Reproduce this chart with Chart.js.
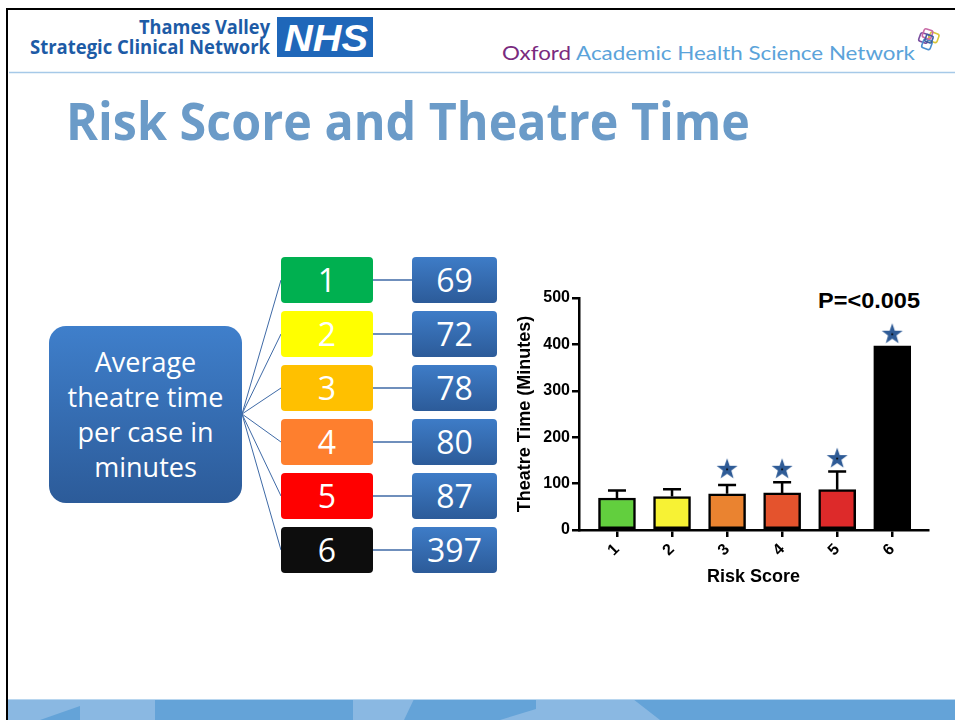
<!DOCTYPE html>
<html>
<head>
<meta charset="utf-8">
<title>Risk Score and Theatre Time</title>
<script src="https://cdn.jsdelivr.net/npm/chart.js@4.4.1/dist/chart.umd.min.js"></script>
<style>
  html, body { margin: 0; padding: 0; background: #fff; }
  #slide { position: relative; width: 955px; height: 720px; overflow: hidden; }
  #deco { position: absolute; left: 0; top: 0; }
  #chartBox { position: absolute; left: 505px; top: 280px; width: 445px; height: 320px; }
</style>
</head>
<body>
<div id="slide">
  <svg id="deco" width="955" height="720" xmlns="http://www.w3.org/2000/svg"></svg>
  <div id="chartBox"><canvas id="riskChart" width="445" height="320"></canvas></div>
</div>
<script>
// data
const riskScores = ['1', '2', '3', '4', '5', '6'];
const meanTimes = [69, 72, 78, 80, 87, 397];
const errorTops = [85, 88, 97, 103, 126, null];
const starScores = [3, 4, 5, 6];
const starHeights = [132, 132, 155, 423];
const yTicks = [0, 100, 200, 300, 400, 500];

const barColours = ['#62cf3e', '#f7f234', '#ea8330', '#e4532d', '#dd2a2a', '#000000'];
const boxColours = ['#00b050', '#ffff00', '#ffc000', '#fe7f2e', '#ff0000', '#0d0d0d'];

const NS = 'http://www.w3.org/2000/svg';
const svg = document.getElementById('deco');

const el = (tag, attrs, text) => {
    const node = document.createElementNS(NS, tag);
    for (const k in attrs) node.setAttribute(k, attrs[k]);
    if (text !== undefined) node.textContent = text;
    svg.appendChild(node);
    return node;
};

// gradients
const defs = el('defs', {});
defs.innerHTML =
    '<linearGradient id="blueGrad" x1="0" y1="0" x2="0" y2="1">' +
    '<stop offset="0" stop-color="#3f7fcb"/><stop offset="1" stop-color="#2c5b99"/></linearGradient>' +
    '<linearGradient id="blueGrad2" x1="0" y1="0" x2="0" y2="1">' +
    '<stop offset="0" stop-color="#3e7cc7"/><stop offset="1" stop-color="#2c5b99"/></linearGradient>';

// slide frame
el('path', { d: 'M7,720 V9 H955', fill: 'none', stroke: '#000', 'stroke-width': 2 });

// header left
el('text', { x: 270, y: 34, 'text-anchor': 'end', 'font-family': 'Open Sans', 'font-weight': 700,
    'font-size': 20, fill: '#1d5ba6', textLength: 131, lengthAdjust: 'spacingAndGlyphs' }, 'Thames Valley');
el('text', { x: 30, y: 54, 'font-family': 'Open Sans', 'font-weight': 700,
    'font-size': 20, fill: '#1d5ba6', textLength: 240, lengthAdjust: 'spacingAndGlyphs' }, 'Strategic Clinical Network');
el('rect', { x: 277, y: 17, width: 96, height: 40, fill: '#1f67b9' });
el('text', { x: 284, y: 51, 'font-family': 'Liberation Sans', 'font-weight': 700, 'font-style': 'italic',
    'font-size': 36, fill: '#fff', textLength: 84, lengthAdjust: 'spacingAndGlyphs' }, 'NHS');

// header right
const oahsn = el('text', { x: 502, y: 60, 'font-family': 'Lato', 'font-size': 20,
    textLength: 413, lengthAdjust: 'spacingAndGlyphs' });
oahsn.innerHTML = '<tspan fill="#7a2a7e">Oxford</tspan><tspan fill="#5ba3da"> Academic Health Science Network</tspan>';

const icon = el('g', { transform: 'translate(928,40)', fill: 'none', 'stroke-width': 1.6 });
icon.innerHTML =
    '<rect x="-9" y="-5" width="9" height="9" rx="2" stroke="#7a4fa0" transform="rotate(20)"/>' +
    '<rect x="0" y="-9" width="9" height="9" rx="2" stroke="#d9c53a" transform="rotate(20)"/>' +
    '<rect x="-4" y="0" width="9" height="9" rx="2" stroke="#4a8fd0" transform="rotate(20)"/>' +
    '<rect x="-7" y="-10" width="9" height="9" rx="2" stroke="#c96aa6" transform="rotate(20)"/>' +
    '<rect x="-3" y="-5" width="7" height="7" rx="1" stroke="#3e5fa0" transform="rotate(20)"/>';

el('line', { x1: 9, y1: 72.5, x2: 955, y2: 72.5, stroke: '#a6c9e8', 'stroke-width': 1.5 });

// title
el('text', { x: 66, y: 140, 'font-family': 'Open Sans', 'font-weight': 700, 'font-size': 52,
    fill: '#6b9bc8', textLength: 684, lengthAdjust: 'spacingAndGlyphs' }, 'Risk Score and Theatre Time');

// footer band
const foot = el('g', {});
foot.innerHTML =
    '<rect x="8" y="699" width="947" height="21" fill="#64a3d8"/>' +
    '<polygon points="8,699 155,699 155,720 80,720 80,706 40,720 8,720" fill="#8ab8e2"/>' +
    '<polygon points="353,699 414,699 404,720 353,720" fill="#8ab8e2"/>' +
    '<polygon points="536,699 633,699 660,720 500,720 536,709" fill="#8ab8e2"/>' +
    '<line x1="8" y1="699.5" x2="955" y2="699.5" stroke="#b8d6ef" stroke-width="1"/>';

// diagram: big box, links, score boxes, value boxes
const rowTop = 257, rowStep = 54, rowH = 46;
el('rect', { x: 49, y: 326, width: 193, height: 177, rx: 17, fill: 'url(#blueGrad)' });
['Average', 'theatre time', 'per case in', 'minutes'].forEach((line, i) => {
    el('text', { x: 145.5, y: 372 + i * 35, 'text-anchor': 'middle', 'font-family': 'Open Sans',
        'font-size': 27, fill: '#fff' }, line);
});
riskScores.forEach((s, i) => {
    const mid = rowTop + i * rowStep + rowH / 2;
    el('line', { x1: 242, y1: 414, x2: 281, y2: mid, stroke: '#3f6aa6', 'stroke-width': 1 });
    el('line', { x1: 373, y1: mid, x2: 412, y2: mid, stroke: '#3f6aa6', 'stroke-width': 1.5 });
    el('rect', { x: 281, y: rowTop + i * rowStep, width: 92, height: rowH, rx: 4, fill: boxColours[i] });
    el('rect', { x: 412, y: rowTop + i * rowStep, width: 85, height: rowH, rx: 4, fill: 'url(#blueGrad2)' });
    el('text', { x: 327, y: mid + 11.5, 'text-anchor': 'middle', 'font-family': 'Open Sans',
        'font-size': 32, fill: '#fff' }, s);
    el('text', { x: 454.5, y: mid + 11.5, 'text-anchor': 'middle', 'font-family': 'Open Sans',
        'font-size': 32, fill: '#fff' }, String(meanTimes[i]));
});

// significance label
el('text', { x: 818, y: 308, 'font-family': 'Liberation Sans', 'font-weight': 700, 'font-size': 22,
    fill: '#000', textLength: 102, lengthAdjust: 'spacingAndGlyphs' }, 'P=<0.005');

// star marker image
const starImg = document.createElement('canvas');
starImg.width = 24; starImg.height = 24;
(() => {
    const c = starImg.getContext('2d');
    c.beginPath();
    for (let k = 0; k < 10; k++) {
        const r = k % 2 === 0 ? 11 : 4.4;
        const a = -Math.PI / 2 + k * Math.PI / 5;
        c.lineTo(12 + r * Math.cos(a), 12.5 + r * Math.sin(a));
    }
    c.closePath();
    c.fillStyle = '#2e5b96';
    c.fill();
    c.beginPath();
    c.arc(12, 12.5, 1, 0, Math.PI * 2);
    c.fillStyle = '#000';
    c.fill();
})();

const errorBarPlugin = {
    id: 'errorBars',
    afterDatasetsDraw(chart) {
        const { ctx, scales: { x, y } } = chart;
        ctx.save();
        ctx.strokeStyle = '#000';
        ctx.lineWidth = 2.5;
        errorTops.forEach((top, i) => {
            if (top === null) return;
            const px = x.getPixelForValue(i + 1);
            const yb = y.getPixelForValue(meanTimes[i]);
            const yt = y.getPixelForValue(top);
            ctx.beginPath();
            ctx.moveTo(px, yb);
            ctx.lineTo(px, yt);
            ctx.moveTo(px - 9, yt);
            ctx.lineTo(px + 9, yt);
            ctx.stroke();
        });
        ctx.restore();
    }
};

const axisFont = { family: 'Liberation Sans', weight: 'bold', size: 16 };

new Chart(document.getElementById('riskChart'), {
    type: 'bar',
    data: {
        datasets: [{
            type: 'scatter',
            data: starScores.map((s, i) => ({ x: s, y: starHeights[i] })),
            pointStyle: starImg,
            pointRadius: 11
        }, {
            data: meanTimes.map((v, i) => ({ x: i + 1, y: v })),
            backgroundColor: barColours,
            borderColor: '#000',
            borderWidth: 2.5,
            borderSkipped: false,
            barThickness: 37
        }]
    },
    options: {
        responsive: false,
        animation: false,
        layout: { padding: { top: 18, right: 22, left: 0, bottom: 0 } },
        plugins: { legend: { display: false }, tooltip: { enabled: false } },
        scales: {
            x: {
                type: 'linear',
                offset: false,
                min: 0.31,
                max: 6.65,
                afterBuildTicks: axis => { axis.ticks = riskScores.map((_, i) => ({ value: i + 1 })); },
                afterFit: axis => { axis.height = 70; },
                ticks: {
                    callback: v => riskScores[v - 1],
                    minRotation: 45,
                    maxRotation: 45,
                    color: '#000',
                    font: axisFont,
                    padding: 3
                },
                grid: { offset: false, drawOnChartArea: false, tickLength: 7, color: '#000', lineWidth: 2.5 },
                border: { display: true, color: '#000', width: 2.5 },
                title: { display: true, text: 'Risk Score', color: '#000',
                    font: { family: 'Liberation Sans', weight: 'bold', size: 18 }, padding: { top: 0, bottom: 12 } }
            },
            y: {
                min: 0,
                max: 500,
                afterBuildTicks: axis => { axis.ticks = yTicks.map(v => ({ value: v })); },
                afterFit: axis => { axis.width = 74; },
                ticks: { color: '#000', font: axisFont, padding: 2 },
                grid: { drawOnChartArea: false, tickLength: 7, color: '#000', lineWidth: 2.5 },
                border: { display: true, color: '#000', width: 2.5 },
                title: { display: true, text: 'Theatre Time (Minutes)', color: '#000',
                    font: { family: 'Liberation Sans', weight: 'bold', size: 18 }, padding: { top: 9, bottom: 0 } }
            }
        }
    },
    plugins: [errorBarPlugin]
});
</script>
</body>
</html>
